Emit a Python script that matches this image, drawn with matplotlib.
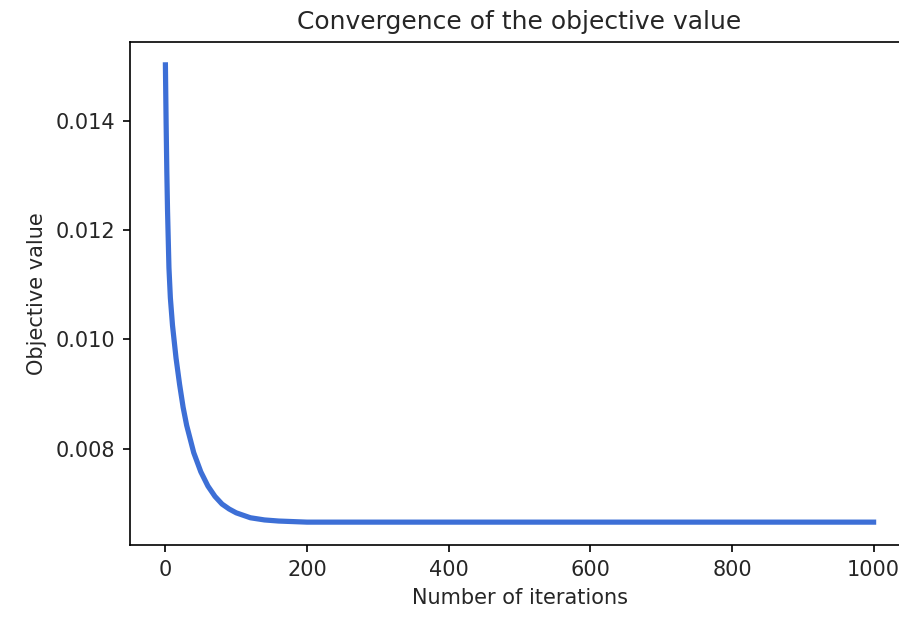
import matplotlib
matplotlib.use("Agg")
import matplotlib.pyplot as plt

# Values
iterations = [0, 1, 2, 3, 5, 7, 10, 15, 20, 25, 30, 40, 50, 60, 70, 80, 90, 100,
              120, 140, 160, 200, 1000]
objective = [0.01502, 0.01396, 0.01306, 0.01236, 0.01131, 0.01076, 0.01026, 0.00966,
             0.00918, 0.00876, 0.00843, 0.00793, 0.00758, 0.00732, 0.00713, 0.00699,
             0.00690, 0.00683, 0.00674, 0.00670, 0.00668, 0.00666, 0.00666]

title = "Convergence of the objective value"
xlabel = "Number of iterations"
ylabel = "Objective value"

plt.rcParams["text.color"] = "#262626"
plt.rcParams["axes.labelcolor"] = "#262626"
plt.rcParams["xtick.labelcolor"] = "#262626"
plt.rcParams["ytick.labelcolor"] = "#262626"

fig = plt.figure(figsize=(899 / 150, 618 / 150), dpi=150)
ax = fig.add_axes([130 / 899, 1 - 545 / 618, (909 - 130) / 899, (545 - 42) / 618])
ax.plot(iterations, objective, color="#3d6fd6", linewidth=2.5)
ax.set_xlim(-50, 1050)
ax.set_title(title)
ax.set_xlabel(xlabel)
ax.set_ylabel(ylabel)
ax.set_xticks([0, 200, 400, 600, 800, 1000])
ax.set_yticks([0.008, 0.010, 0.012, 0.014])
ax.set_yticklabels(["0.008", "0.010", "0.012", "0.014"])
fig.savefig("out.png", dpi=150)
